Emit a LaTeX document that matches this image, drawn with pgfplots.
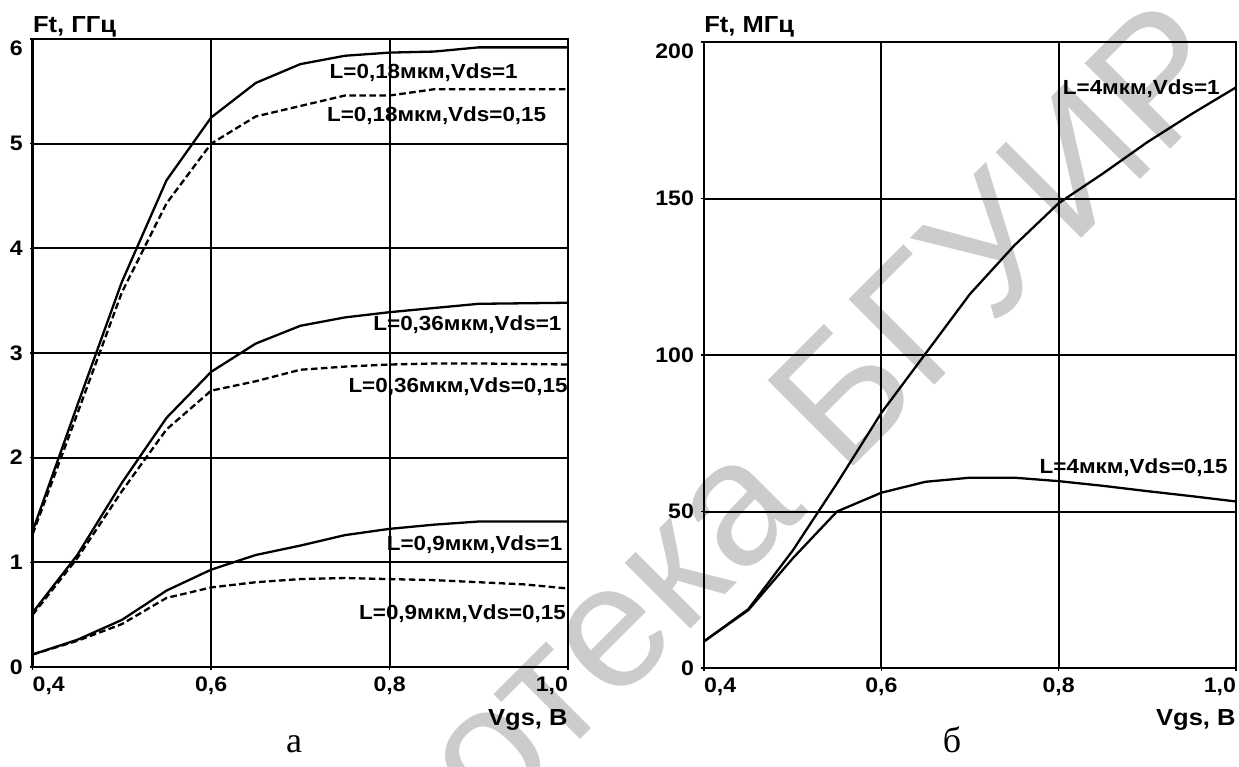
\documentclass[border=0pt]{standalone}
\usepackage{pgfplots}
\pgfplotsset{compat=1.18}
\usepackage{fontspec}
\setmainfont{Liberation Sans}
\newfontfamily\widefont{Liberation Sans}[FakeStretch=1.1]
\newfontfamily\capfont{Liberation Serif}
\newcommand\tlab{\widefont\fontsize{10.5}{12}\selectfont\bfseries}
\newcommand\alab{\widefont\fontsize{11.6}{13}\selectfont\bfseries}
\newcommand\lab{\widefont\fontsize{10.2}{12}\selectfont\bfseries}

\pgfplotsset{
  panel/.style={
    scale only axis, clip=false,
    xmin=0.4, xmax=1.0,
    xtick={0.4,0.6,0.8,1.0},
    xticklabels={{\rlap{0,4}},{0,6},{0,8},{\llap{1,0}}},
    grid=major,
    major grid style={black, line width=1pt},
    axis line style={line width=1.3pt},
    tick align=outside, major tick length=1.5pt,
    tick style={black, line width=0.8pt},
    xtick pos=bottom, ytick pos=left,
    ticklabel style={font=\tlab},
    /pgf/number format/assume math mode=true,
  },
  solid curve/.style={black, line width=1.15pt, no markers},
  dashed curve/.style={black, line width=1.15pt, no markers, dash pattern=on 3.3pt off 1.7pt},
}

\begin{document}
\begin{tikzpicture}
\useasboundingbox (0pt,0pt) rectangle (619.5pt,383.5pt);
% watermark
\node[rotate=45, text=black!20, font=\fontsize{88}{88}\selectfont] at (321.5pt,90pt) {Библиотека БГУИР};

% panel a
\begin{axis}[panel, at={(16.35pt,50pt)}, anchor=south west,
  width=267.65pt, height=314pt,
  ymin=0, ymax=6, ytick={0,1,...,6},
  yticklabels={0,1,2,3,4,5,{\raisebox{-4.5pt}[\height][\depth]{6}}}]
% L=0,18, Vds=1
\addplot[solid curve] coordinates {(0.4,1.30) (0.45,2.50) (0.5,3.68) (0.55,4.65) (0.6,5.25) (0.65,5.58) (0.7,5.76) (0.75,5.84) (0.8,5.87) (0.85,5.88) (0.9,5.92) (1.0,5.92)};
% L=0,18, Vds=0,15
\addplot[dashed curve] coordinates {(0.4,1.27) (0.45,2.42) (0.5,3.58) (0.55,4.43) (0.6,5.00) (0.65,5.26) (0.7,5.36) (0.75,5.46) (0.8,5.46) (0.85,5.52) (0.9,5.52) (1.0,5.52)};
% L=0,36, Vds=1
\addplot[solid curve] coordinates {(0.4,0.52) (0.45,1.07) (0.5,1.76) (0.55,2.38) (0.6,2.82) (0.65,3.09) (0.7,3.26) (0.75,3.34) (0.8,3.39) (0.85,3.43) (0.9,3.47) (1.0,3.48)};
% L=0,36, Vds=0,15
\addplot[dashed curve] coordinates {(0.4,0.50) (0.45,1.04) (0.5,1.68) (0.55,2.27) (0.6,2.64) (0.65,2.73) (0.7,2.84) (0.75,2.87) (0.8,2.89) (0.85,2.90) (0.9,2.90) (1.0,2.89)};
% L=0,9, Vds=1
\addplot[solid curve] coordinates {(0.4,0.12) (0.45,0.26) (0.5,0.45) (0.55,0.73) (0.6,0.93) (0.65,1.07) (0.7,1.16) (0.75,1.26) (0.8,1.32) (0.85,1.36) (0.9,1.39) (1.0,1.39)};
% L=0,9, Vds=0,15
\addplot[dashed curve] coordinates {(0.4,0.12) (0.45,0.25) (0.5,0.41) (0.55,0.66) (0.6,0.76) (0.65,0.81) (0.7,0.84) (0.75,0.85) (0.8,0.84) (0.85,0.83) (0.9,0.81) (0.95,0.79) (1.0,0.75)};

\node[anchor=east, inner sep=0pt, font=\lab] at (axis cs:0.944,5.68) {L=0,18мкм,Vds=1};
\node[anchor=east, inner sep=0pt, font=\lab] at (axis cs:0.976,5.27) {L=0,18мкм,Vds=0,15};
\node[anchor=east, inner sep=0pt, font=\lab] at (axis cs:0.993,3.27) {L=0,36мкм,Vds=1};
\node[anchor=east, inner sep=0pt, font=\lab] at (axis cs:1.0,2.68) {L=0,36мкм,Vds=0,15};
\node[anchor=east, inner sep=0pt, font=\lab] at (axis cs:0.994,1.165) {L=0,9мкм,Vds=1};
\node[anchor=east, inner sep=0pt, font=\lab] at (axis cs:0.998,0.51) {L=0,9мкм,Vds=0,15};

\node[anchor=base west, inner sep=0pt, font=\alab, yshift=3.5pt] at (rel axis cs:0,1) {Ft, ГГц};
\node[anchor=base east, inner sep=0pt, font=\alab, yshift=-29pt] at (rel axis cs:1,0) {Vgs, В};
\end{axis}

% panel b
\begin{axis}[panel, at={(352pt,49.5pt)}, anchor=south west,
  width=266pt, height=313pt,
  ymin=0, ymax=200, ytick={0,50,...,200},
  yticklabels={0,50,100,150,{\raisebox{-4.5pt}[\height][\depth]{200}}}]
% L=4, Vds=1
\addplot[solid curve] coordinates {(0.4,8.5) (0.45,18.8) (0.5,37.5) (0.55,59) (0.6,81.5) (0.65,100.5) (0.7,119.5) (0.75,135) (0.8,148.5) (0.85,158) (0.9,168) (0.95,177) (1.0,185.5)};
% L=4, Vds=0,15
\addplot[solid curve] coordinates {(0.4,8.5) (0.45,18.5) (0.5,35) (0.55,50) (0.6,56) (0.65,59.5) (0.7,60.8) (0.75,60.8) (0.8,59.7) (0.85,58.2) (0.9,56.5) (0.95,54.9) (1.0,53.2)};

\node[anchor=east, inner sep=0pt, font=\lab] at (axis cs:0.982,185) {L=4мкм,Vds=1};
\node[anchor=east, inner sep=0pt, font=\lab] at (axis cs:0.991,63.9) {L=4мкм,Vds=0,15};

\node[anchor=base west, inner sep=0pt, font=\alab, yshift=5pt] at (rel axis cs:0,1) {Ft, МГц};
\node[anchor=base east, inner sep=0pt, font=\alab, yshift=-28.5pt] at (rel axis cs:1,0) {Vgs, В};
\end{axis}

% captions
\node[anchor=base, inner sep=0pt, font=\capfont\fontsize{18}{18}\selectfont] at (147pt,7.5pt) {а};
\node[anchor=base, inner sep=0pt, font=\capfont\fontsize{18}{18}\selectfont] at (476pt,7.5pt) {б};
\end{tikzpicture}
\end{document}
